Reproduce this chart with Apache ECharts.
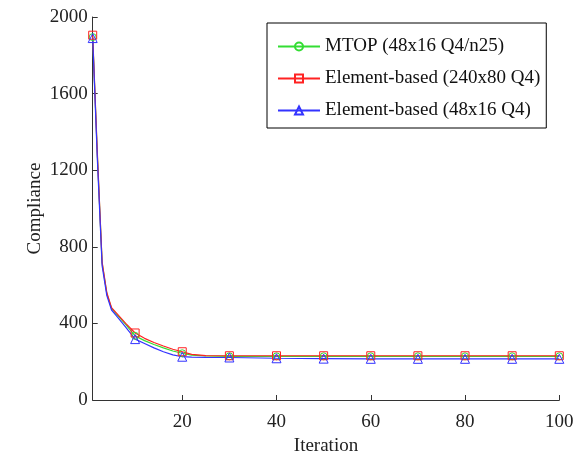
<!DOCTYPE html>
<html>
<head>
<meta charset="utf-8">
<script src="https://cdn.jsdelivr.net/npm/echarts@6/dist/echarts.min.js"></script>
<style>
html,body{margin:0;padding:0;background:#fff;}
#chart{width:579px;height:455px;}
</style>
</head>
<body>
<div id="chart"></div>
<script>
var iterations = [1,2,3,4,5,6,8,10,12,14,16,18,20,22,25,30,40,50,60,70,80,90,100];
var mtop       = [1895,1270,715,555,478,450,395,335,310,290,272,256,244,234,230,228,228,228,228,228,228,228,228];
var elemFine   = [1905,1280,720,560,482,455,400,350,322,300,282,265,252,238,232,231,231,231,231,231,231,231,231];
var elemCoarse = [1890,1250,700,545,470,440,380,318,295,272,252,236,226,224,223,222,218,216,215,215,215,215,215];
var markerIters = [1,10,20,30,40,50,60,70,80,90,100];
var xTicks = [20,40,60,80,100];
var seriesNames = ['MTOP (48x16 Q4/n25)','Element-based (240x80 Q4)','Element-based (48x16 Q4)'];

var font = "'Liberation Serif','Times New Roman',serif";

function build(vals){
  return iterations.map(function(it,i){
    var d = {value:[it, vals[i]]};
    if (markerIters.indexOf(it) < 0) d.symbol = 'none';
    return d;
  });
}
function mk(name, vals, color, symbol, size){
  return {
    name: name, type: 'line', data: build(vals),
    symbol: symbol, symbolSize: size, showAllSymbol: true,
    lineStyle: {color: color, width: 1.2},
    itemStyle: {color: 'rgba(255,255,255,0)', borderColor: color, borderWidth: 1},
    emphasis: {disabled: true},
    animation: false
  };
}

var chart = echarts.init(document.getElementById('chart'), null, {renderer:'canvas'});
chart.setOption({
  animation: false,
  backgroundColor: '#fff',
  grid: {left: 92.7, right: 19.7, top: 17, bottom: 55, outerBoundsMode: 'none', containLabel: false},
  legend: {
    orient: 'vertical', left: 267, top: 23,
    backgroundColor: '#fff',
    borderColor: '#000', borderWidth: 1,
    padding: [14, 6, 8, 10],
    itemWidth: 42, itemHeight: 10, itemGap: 13, itemTextGap: 4,
    textStyle: {fontFamily: font, fontSize: 19, color: '#111'},
    data: seriesNames
  },
  xAxis: {
    type: 'value', min: 1, max: 100,
    name: 'Iteration', nameLocation: 'middle', nameGap: 36,
    nameTextStyle: {fontFamily: font, fontSize: 19, color: '#222'},
    axisLine: {show: true, onZero: false, lineStyle: {color: '#333', width: 1}},
    axisTick: {show: true, inside: true, length: 5, customValues: xTicks, lineStyle: {color: '#333'}},
    axisLabel: {fontFamily: font, fontSize: 19, color: '#222', margin: 13, customValues: xTicks},
    splitLine: {show: false}
  },
  yAxis: {
    type: 'value', min: 0, max: 2000, interval: 400,
    name: 'Compliance', nameLocation: 'middle', nameGap: 48, nameMoveOverlap: false,
    nameTextStyle: {fontFamily: font, fontSize: 19, color: '#222'},
    axisLine: {show: true, lineStyle: {color: '#333', width: 1}},
    axisTick: {show: true, inside: true, length: 5, lineStyle: {color: '#333'}},
    axisLabel: {fontFamily: font, fontSize: 19, color: '#222', margin: 5, formatter: function(v){ return String(v); }},
    splitLine: {show: false}
  },
  series: [
    mk(seriesNames[0], mtop, '#33dd33', 'circle', 7),
    mk(seriesNames[1], elemFine, '#ff2222', 'rect', 8),
    mk(seriesNames[2], elemCoarse, '#3333ff', 'triangle', 9)
  ]
});
</script>
</body>
</html>
